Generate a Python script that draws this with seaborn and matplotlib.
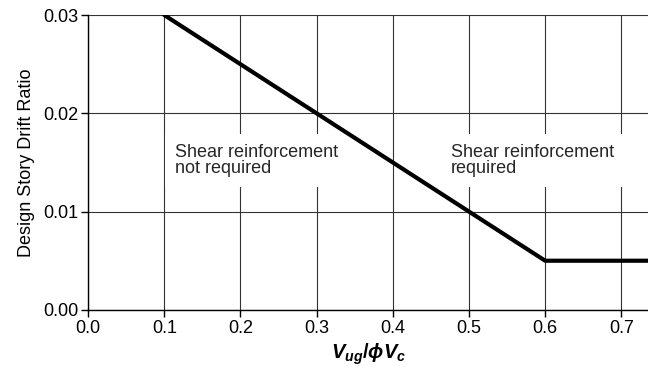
import matplotlib
matplotlib.use("Agg")
import matplotlib.pyplot as plt
import seaborn as sns
import pandas as pd

# Data
ratio = [0.1, 0.6, 0.75]
drift = [0.03, 0.005, 0.005]
xticks = [0.0, 0.1, 0.2, 0.3, 0.4, 0.5, 0.6, 0.7]
yticks = [0.00, 0.01, 0.02, 0.03]
label_left = "Shear reinforcement\nnot required"
label_right = "Shear reinforcement\nrequired"

sns.set_theme(style="white")
plt.rcParams['font.family'] = ['Liberation Sans', 'DejaVu Sans']
plt.rcParams['mathtext.fontset'] = 'custom'
plt.rcParams['mathtext.it'] = 'Liberation Sans:italic:bold'
plt.rcParams['mathtext.rm'] = 'Liberation Sans:bold'
plt.rcParams['mathtext.bf'] = 'Liberation Sans:bold'

fig = plt.figure(figsize=(6.48, 3.68), dpi=100)
ax = fig.add_axes([0.136, 0.158, 0.864, 0.801])

df = pd.DataFrame({"x": ratio, "y": drift})
sns.lineplot(data=df, x="x", y="y", ax=ax, color="black", lw=3.0, zorder=5)

ax.set_xlim(0, 0.735)
ax.set_ylim(0, 0.03)
ax.set_xticks(xticks)
ax.set_yticks(yticks)
ax.set_xticklabels([f"{v:.1f}" for v in xticks])
ax.set_yticklabels([f"{v:.2f}" for v in yticks])
ax.grid(True, color="#333333", lw=0.8)
ax.set_axisbelow(True)
for s in ["top", "right"]:
    ax.spines[s].set_visible(False)
for s in ["left", "bottom"]:
    ax.spines[s].set_color("black")
    ax.spines[s].set_linewidth(1.0)
ax.tick_params(axis="both", which="both", direction="out", length=5, width=1,
               color="black", labelsize=13, labelcolor="black", left=True, bottom=True,
               pad=2)

ax.set_ylabel("Design Story Drift Ratio", fontsize=13, color="black", labelpad=6)
ax.set_xlabel(r"$V_{ug}/\phi V_c$", fontsize=14.5, color="black")
ax.xaxis.set_label_coords(0.5, -0.15)
ax.xaxis.label.set_va("center")

bbox = dict(facecolor="white", edgecolor="none", pad=7)
ax.text(0.114, 0.0152, label_left, fontsize=13, va="center", ha="left",
        linespacing=0.95, bbox=bbox, zorder=4)
ax.text(0.476, 0.0152, label_right, fontsize=13, va="center", ha="left",
        linespacing=0.95, bbox=bbox, zorder=4)

fig.savefig("out.png", dpi=100)
